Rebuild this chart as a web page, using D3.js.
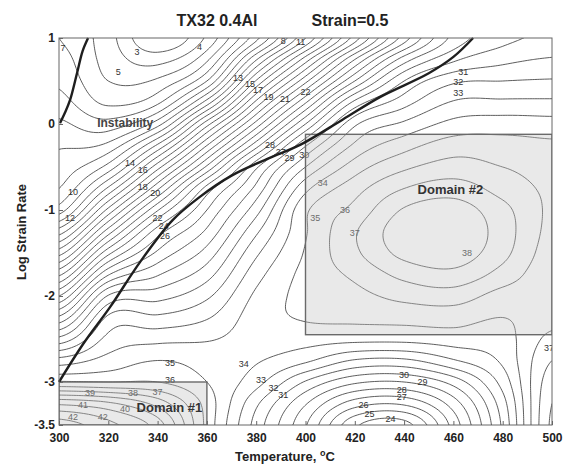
<!DOCTYPE html>
<html lang="en">
<head>
<meta charset="UTF-8">
<title>TX32 0.4Al processing map</title>
<script src="https://cdn.jsdelivr.net/npm/d3@7"></script>
<style>
  body { margin: 0; background: #fff; }
  svg { display: block; font-family: "Liberation Sans", Arial, sans-serif; }
</style>
</head>
<body>
<svg id="chart" width="565" height="464"></svg>
<script>
// efficiency (%), one row per log strain rate, one column per temperature
var temps = [300, 320, 340, 360, 380, 400, 420, 440, 460, 480, 500];
var rates = [1, 0.75, 0.5, 0.25, 0, -0.25, -0.5, -0.75, -1, -1.25, -1.5, -1.75, -2, -2.25, -2.5, -2.75, -3, -3.25, -3.5];
var efficiency = [
  [6.0, 4.4, 2.0, 4.2, 8.7, 14.0, 19.5, 24.5, 28.3, 29.7, 30.2],
  [6.4, 4.6, 3.6, 5.8, 11.9, 17.5, 23.0, 27.5, 29.8, 30.7, 31.1],
  [6.8, 5.0, 5.2, 8.0, 15.1, 20.7, 26.0, 30.0, 31.8, 32.0, 32.1],
  [7.4, 5.8, 6.8, 11.5, 18.3, 23.9, 29.3, 31.6, 33.1, 33.2, 33.2],
  [8.2, 7.4, 9.6, 15.6, 21.4, 27.0, 31.8, 33.2, 34.3, 34.5, 34.4],
  [8.9, 9.3, 13.2, 19.0, 24.6, 29.9, 33.2, 34.6, 35.5, 35.4, 35.2],
  [9.4, 11.4, 16.6, 22.2, 27.8, 32.0, 34.5, 35.8, 36.4, 36.0, 35.6],
  [10.0, 14.2, 19.8, 25.4, 29.3, 33.7, 35.6, 37.0, 37.5, 36.6, 35.8],
  [11.5, 17.3, 22.9, 27.0, 30.6, 34.8, 36.3, 38.1, 38.5, 37.3, 35.8],
  [14.5, 20.5, 25.5, 28.2, 31.8, 34.9, 36.9, 38.6, 38.9, 37.5, 35.7],
  [17.6, 23.7, 27.2, 29.4, 32.8, 35.1, 36.8, 38.3, 38.6, 37.3, 35.5],
  [20.8, 26.9, 28.9, 30.6, 33.6, 35.3, 36.2, 37.3, 37.7, 36.6, 35.3],
  [24.0, 30.1, 30.6, 31.8, 34.2, 35.3, 35.7, 36.3, 36.5, 35.6, 35.4],
  [27.2, 32.2, 32.2, 32.9, 34.5, 35.1, 35.2, 35.3, 35.4, 35.0, 35.6],
  [30.3, 33.3, 33.7, 33.9, 34.4, 34.4, 34.3, 34.3, 34.5, 34.6, 36.3],
  [33.4, 34.4, 35.0, 34.6, 34.1, 33.2, 31.9, 31.8, 32.9, 34.2, 37.0],
  [36.1, 36.0, 36.0, 35.0, 33.4, 30.9, 29.2, 29.0, 30.4, 33.4, 37.6],
  [40.8, 40.2, 38.6, 35.6, 32.2, 29.1, 26.5, 26.2, 28.5, 32.6, 38.0],
  [43.5, 42.3, 40.5, 35.7, 31.6, 28.1, 24.2, 23.6, 27.4, 32.2, 38.2]
];
var levels = [2, 3, 4, 5, 6, 7, 8, 9, 10, 11, 12, 13, 14, 15, 16, 17, 18, 19, 20, 21, 22,
  23, 24, 25, 26, 27, 28, 29, 30, 31, 32, 33, 34, 35, 36, 37, 38, 39, 40, 41, 42, 43];

var tempTicks = [300, 320, 340, 360, 380, 400, 420, 440, 460, 480, 500];
var rateTicks = [1, 0, -1, -2, -3, -3.5];

// instability boundaries (thick lines)
var instabMainT = [300, 310, 320.7, 333, 346, 357, 370, 385, 398, 415, 430, 450, 460, 468];
var instabMainV = [-3, -2.55, -2.13, -1.6, -1.12, -0.85, -0.6, -0.4, -0.24, 0.05, 0.31, 0.59, 0.78, 1.0];
var instabTopT = [300.4, 302.4, 304.5, 307.3, 309.6, 311.8];
var instabTopV = [0.01, 0.13, 0.28, 0.59, 0.85, 1.0];

// contour labels: [value, temperature, log strain rate]
var contourLabels = [
  [7, 301.6, 0.88], [3, 331.6, 0.84], [5, 324, 0.6], [4, 357, 0.9], [8, 391, 0.96], [11, 398, 0.95],
  [13, 372.6, 0.53], [15, 377.5, 0.47], [17, 380.7, 0.39], [19, 385, 0.31], [21, 391.7, 0.29], [22, 400, 0.37],
  [10, 305.7, -0.79], [12, 304.5, -1.09], [14, 328.8, -0.45], [16, 334, -0.53], [18, 334, -0.73], [20, 339, -0.8],
  [22, 340, -1.09], [24, 342.5, -1.19], [26, 343, -1.3],
  [28, 385.6, -0.24], [27, 390, -0.32], [29, 393.5, -0.39], [30, 399.5, -0.36],
  [31, 464, 0.6], [32, 462, 0.49], [33, 462, 0.36],
  [34, 407, -0.69], [35, 404, -1.09], [36, 416, -1.0], [37, 420, -1.27], [38, 465.5, -1.5],
  [35, 345, -2.78], [36, 345, -2.98], [37, 340, -3.12], [38, 330, -3.13], [39, 312.6, -3.13],
  [41, 309.7, -3.27], [40, 326.8, -3.31], [42, 305.7, -3.41], [42, 317.8, -3.41],
  [34, 375, -2.79], [33, 382, -2.98], [32, 387, -3.07], [31, 391, -3.15],
  [30, 440, -2.92], [29, 447.5, -3.0], [28, 439, -3.09], [27, 439, -3.18],
  [26, 423.5, -3.27], [25, 426, -3.37], [24, 434.5, -3.43], [37, 498.8, -2.6]
];

// stable domains: temperature range, strain rate range
var domainNames = ['Domain #1', 'Domain #2'];
var domainT = [[300, 360], [400, 500]];
var domainV = [[-3.5, -3], [-2.45, -0.12]];
var domainLabelAt = [[344.8, -3.35], [458.8, -0.81]];

var svg = d3.select('#chart');
var plotLeft = 59, plotRight = 552, plotTop = 38, plotBottom = 425;

var x = d3.scaleLinear().domain([300, 500]).range([plotLeft, plotRight]);
var y = d3.scaleLinear().domain([-3.5, 1]).range([plotBottom, plotTop]);

svg.append('rect').attr('width', 565).attr('height', 464).attr('fill', '#fff');

svg.append('defs').append('clipPath').attr('id', 'plotclip')
  .append('rect')
  .attr('x', plotLeft).attr('y', plotTop)
  .attr('width', plotRight - plotLeft).attr('height', plotBottom - plotTop);

// resample the grid smoothly (catmull-rom) so the contour lines come out round
function cr(p0, p1, p2, p3, t) {
  return p1 + 0.5 * t * (p2 - p0 + t * (2 * p0 - 5 * p1 + 4 * p2 - p3 + t * (3 * (p1 - p2) + p3 - p0)));
}
function cell(i, j) {
  i = Math.max(0, Math.min(temps.length - 1, i));
  j = Math.max(0, Math.min(rates.length - 1, j));
  return efficiency[j][i];
}
function sample(u, w) {
  var i = Math.min(Math.floor(u), temps.length - 2);
  var j = Math.min(Math.floor(w), rates.length - 2);
  var t = u - i, s = w - j;
  var col = [];
  for (var k = -1; k <= 2; k++) {
    col.push(cr(cell(i - 1, j + k), cell(i, j + k), cell(i + 1, j + k), cell(i + 2, j + k), t));
  }
  return cr(col[0], col[1], col[2], col[3], s);
}

var tStep = 1, vStep = 0.025;
var nx = Math.round((500 - 300) / tStep) + 1;
var ny = Math.round((1 - (-3.5)) / vStep) + 1;
var tSpan = temps[1] - temps[0], vSpan = rates[0] - rates[1];
var values = new Array(nx * ny);
for (var gy = 0; gy < ny; gy++) {
  for (var gx = 0; gx < nx; gx++) {
    values[gy * nx + gx] = sample(gx * tStep / tSpan, gy * vStep / vSpan);
  }
}

var contours = d3.contours().size([nx, ny]).thresholds(levels)(values);

var toPlot = d3.geoTransform({
  point: function(px, py) {
    this.stream.point(x(300 + (px - 0.5) * tStep), y(1 - (py - 0.5) * vStep));
  }
});
var path = d3.geoPath(toPlot);

var plot = svg.append('g').attr('clip-path', 'url(#plotclip)');

plot.selectAll('path.iso')
  .data(contours)
  .enter()
  .append('path')
  .attr('class', 'iso')
  .attr('d', path)
  .attr('fill', 'none')
  .attr('stroke', '#333')
  .attr('stroke-width', 0.8);

plot.selectAll('text.clabel')
  .data(contourLabels)
  .enter()
  .append('text')
  .attr('class', 'clabel')
  .attr('x', function(d) { return x(d[1]); })
  .attr('y', function(d) { return y(d[2]); })
  .attr('text-anchor', 'middle')
  .attr('dominant-baseline', 'central')
  .attr('font-size', '9px')
  .attr('fill', '#333')
  .text(function(d) { return d[0]; });

// shaded domains lie over the contours, so lines inside look lighter
plot.selectAll('rect.domain')
  .data(domainNames)
  .enter()
  .append('rect')
  .attr('class', 'domain')
  .attr('x', function(d, i) { return x(domainT[i][0]); })
  .attr('y', function(d, i) { return y(domainV[i][1]); })
  .attr('width', function(d, i) { return x(domainT[i][1]) - x(domainT[i][0]); })
  .attr('height', function(d, i) { return y(domainV[i][0]) - y(domainV[i][1]); })
  .attr('fill', '#c4c4c4')
  .attr('fill-opacity', 0.38)
  .attr('stroke', '#6a6a6a')
  .attr('stroke-width', 1.4);

plot.selectAll('text.dname')
  .data(domainNames)
  .enter()
  .append('text')
  .attr('class', 'dname')
  .attr('x', function(d, i) { return x(domainLabelAt[i][0]); })
  .attr('y', function(d, i) { return y(domainLabelAt[i][1]); })
  .attr('text-anchor', 'middle')
  .attr('font-size', '13px')
  .attr('font-weight', 'bold')
  .attr('fill', '#333')
  .text(function(d) { return d; });

plot.append('text')
  .attr('x', x(315.5))
  .attr('y', y(-0.035))
  .attr('font-size', '12px')
  .attr('font-weight', 'bold')
  .attr('fill', '#444')
  .text('Instability');

var thick = d3.line()
  .x(function(d) { return x(d[0]); })
  .y(function(d) { return y(d[1]); })
  .curve(d3.curveCatmullRom);

svg.append('path')
  .datum(d3.zip(instabMainT, instabMainV))
  .attr('d', thick)
  .attr('fill', 'none')
  .attr('stroke', '#1e1e1e')
  .attr('stroke-width', 2.4);

svg.append('path')
  .datum(d3.zip(instabTopT, instabTopV))
  .attr('d', thick)
  .attr('fill', 'none')
  .attr('stroke', '#1e1e1e')
  .attr('stroke-width', 2.4);

// frame and axes
svg.append('rect')
  .attr('x', plotLeft).attr('y', plotTop)
  .attr('width', plotRight - plotLeft).attr('height', plotBottom - plotTop)
  .attr('fill', 'none')
  .attr('stroke', '#666')
  .attr('stroke-width', 1);

var xAxis = svg.append('g')
  .attr('transform', 'translate(0,' + plotBottom + ')')
  .call(d3.axisBottom(x).tickValues(tempTicks).tickSizeInner(-4).tickSizeOuter(0).tickPadding(8)
    .tickFormat(function(d) { return String(d); }));

var yAxis = svg.append('g')
  .attr('transform', 'translate(' + plotLeft + ',0)')
  .call(d3.axisLeft(y).tickValues(rateTicks).tickSizeInner(-4).tickSizeOuter(0).tickPadding(4)
    .tickFormat(function(d) { return String(d); }));

[xAxis, yAxis].forEach(function(ax) {
  ax.select('.domain').remove();
  ax.selectAll('line').attr('stroke', '#666');
  ax.selectAll('text')
    .attr('font-family', '"Liberation Sans", Arial, sans-serif')
    .attr('font-size', '12px')
    .attr('font-weight', 'bold')
    .attr('fill', '#222');
});

svg.append('text')
  .attr('x', 217).attr('y', 26)
  .attr('text-anchor', 'middle')
  .attr('font-size', '16px')
  .attr('font-weight', 'bold')
  .attr('fill', '#222')
  .text('TX32 0.4Al');

svg.append('text')
  .attr('x', 350).attr('y', 26)
  .attr('text-anchor', 'middle')
  .attr('font-size', '16px')
  .attr('font-weight', 'bold')
  .attr('fill', '#222')
  .text('Strain=0.5');

var xl = svg.append('text')
  .attr('x', 285).attr('y', 461)
  .attr('text-anchor', 'middle')
  .attr('font-size', '13px')
  .attr('font-weight', 'bold')
  .attr('fill', '#222');
xl.append('tspan').text('Temperature, ');
xl.append('tspan').attr('dy', -5).attr('font-size', '9px').text('o');
xl.append('tspan').attr('dy', 5).text('C');

svg.append('text')
  .attr('transform', 'translate(26,232) rotate(-90)')
  .attr('text-anchor', 'middle')
  .attr('font-size', '13px')
  .attr('font-weight', 'bold')
  .attr('fill', '#222')
  .text('Log Strain Rate');
</script>
</body>
</html>
